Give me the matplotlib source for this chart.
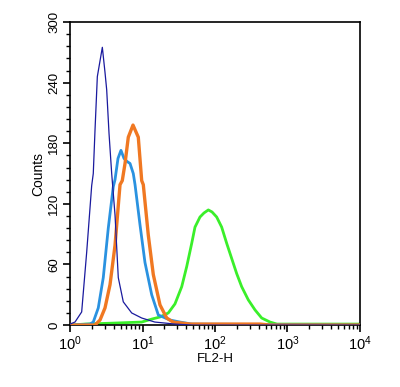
import matplotlib
matplotlib.use("Agg")
import matplotlib.pyplot as plt
from matplotlib.ticker import LogLocator, MultipleLocator, NullFormatter

plt.rcParams['font.family'] = ['Liberation Sans', 'DejaVu Sans']
plt.rcParams['mathtext.default'] = 'regular'

# FL2-H values (log10 of fluorescence) and counts for each histogram
navy_logx = [0.0, 0.069, 0.161, 0.230, 0.299, 0.321, 0.345, 0.377, 0.446, 0.483, 0.506,
             0.538, 0.575, 0.621, 0.666, 0.735, 0.851, 0.989, 1.17, 1.45, 1.7, 4.0]
navy_cnt = [1, 3, 13, 72, 138, 150, 193, 246, 275, 250, 233,
            190, 150, 109, 47, 23, 12, 7, 3, 1, 0, 0]

blue_logx = [0.0, 0.276, 0.321, 0.390, 0.459, 0.528, 0.597, 0.621, 0.662, 0.703, 0.745,
             0.786, 0.828, 0.873, 0.897, 0.966, 1.034, 1.127, 1.218, 1.379, 1.517, 1.68, 4.0]
blue_cnt = [0, 1, 3, 17, 47, 96, 137, 144, 165, 173, 165,
            162, 160, 150, 139, 99, 62, 30, 10, 5, 3, 1, 0]

orange_logx = [0.0, 0.345, 0.414, 0.483, 0.552, 0.621, 0.690, 0.721, 0.759, 0.804, 0.869,
               0.942, 0.989, 1.011, 1.080, 1.149, 1.241, 1.334, 1.421, 1.655, 2.62, 2.76, 4.0]
orange_cnt = [0, 0, 5, 17, 40, 79, 139, 143, 160, 186, 198,
              186, 143, 139, 89, 50, 20, 7, 3, 1, 1, 0, 0]

green_logx = [0.0, 0.207, 0.621, 0.989, 1.131, 1.241, 1.356, 1.448, 1.541, 1.610, 1.679,
              1.724, 1.793, 1.848, 1.908, 1.959, 2.023, 2.092, 2.161, 2.230, 2.299, 2.368,
              2.459, 2.552, 2.644, 2.759, 2.855, 4.0]
green_cnt = [0, 1, 2, 3, 6, 8, 12, 21, 38, 58, 81,
             97, 107, 111, 114, 112, 107, 97, 81, 66, 51, 38,
             25, 15, 7, 3, 1, 1]

xtick_vals = [1, 10, 100, 1000, 10000]
xtick_labels = ['$10^0$', '$10^1$', '$10^2$', '$10^3$', '$10^4$']
ytick_vals = [0, 60, 120, 180, 240, 300]

fig = plt.figure(figsize=(4.0, 3.87), dpi=100)
ax = fig.add_axes([0.175, 0.160, 0.725, 0.783])

def to_lin(lx):
    return [10 ** v for v in lx]

ax.plot(to_lin(green_logx), green_cnt, color='#3aef2a', lw=2.0, zorder=2)
ax.plot(to_lin(blue_logx), blue_cnt, color='#2a92e0', lw=2.0, zorder=3)
ax.plot(to_lin(orange_logx), orange_cnt, color='#f07822', lw=2.4, zorder=4)
ax.plot(to_lin(navy_logx), navy_cnt, color='#1a1a9e', lw=0.9, zorder=5)

ax.set_xscale('log')
ax.set_xlim(1, 10000)
ax.set_ylim(0, 300)

ax.set_xticks(xtick_vals)
ax.set_xticklabels(xtick_labels, fontsize=10.5)
ax.xaxis.set_minor_locator(LogLocator(base=10, subs=range(2, 10), numticks=20))
ax.xaxis.set_minor_formatter(NullFormatter())

ax.set_yticks(ytick_vals)
ax.set_yticklabels([str(v) for v in ytick_vals], fontsize=9.5, rotation=90, va='center')
ax.yaxis.set_minor_locator(MultipleLocator(12))

ax.tick_params(axis='both', which='major', direction='out', length=5, width=1.2, pad=2)
ax.tick_params(axis='both', which='minor', direction='out', length=3, width=1.0)
ax.tick_params(top=False, right=False, which='both')

for s in ax.spines.values():
    s.set_linewidth(1.2)

ax.set_xlabel('FL2-H', fontsize=9.5, labelpad=0)
ax.set_ylabel('Counts', fontsize=10, labelpad=2)

fig.savefig('out.png', dpi=100)
